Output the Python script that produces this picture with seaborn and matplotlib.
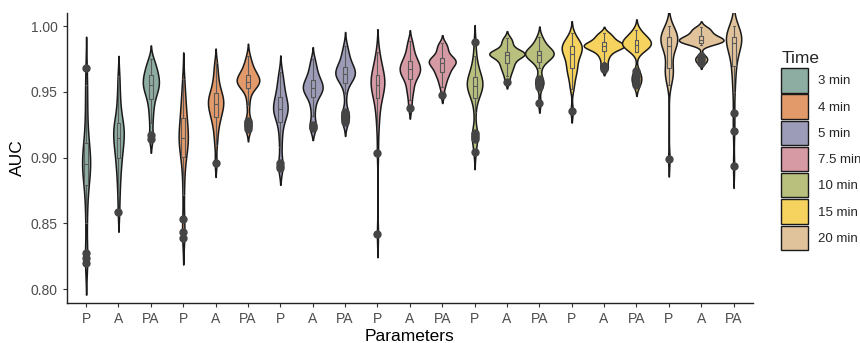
import matplotlib
matplotlib.use("Agg")
import matplotlib.pyplot as plt
from matplotlib.patches import Patch
import numpy as np
import pandas as pd
import seaborn as sns

# ---------------- data ----------------
times = ["3 min", "4 min", "5 min", "7.5 min", "10 min", "15 min", "20 min"]
params = ["P", "A", "PA"]
colors = ["#8DADA2", "#E29A6B", "#9C9CB8", "#D69AA5", "#B9BF7D", "#F6D35E", "#E0C29B"]

auc_3_P = [0.8198, 0.8236, 0.8274, 0.850, 0.862, 0.872, 0.879, 0.884, 0.887, 0.890, 0.892, 0.894, 0.895,
           0.897, 0.899, 0.902, 0.905, 0.908, 0.911, 0.917, 0.925, 0.935, 0.945, 0.955, 0.968]
auc_3_A = [0.859, 0.872, 0.880, 0.887, 0.892, 0.896, 0.900, 0.903, 0.906, 0.909, 0.911, 0.913, 0.915,
           0.917, 0.919, 0.921, 0.923, 0.925, 0.926, 0.929, 0.933, 0.938, 0.944, 0.952, 0.962]
auc_3_PA = [0.914, 0.9172, 0.926, 0.932, 0.937, 0.941, 0.9446, 0.947, 0.949, 0.951, 0.952, 0.954, 0.955,
            0.956, 0.957, 0.959, 0.960, 0.9615, 0.9628, 0.964, 0.966, 0.968, 0.970, 0.972, 0.975]
auc_4_P = [0.8388, 0.8438, 0.8532, 0.872, 0.885, 0.894, 0.9007, 0.904, 0.907, 0.910, 0.912, 0.9135, 0.9147,
           0.916, 0.918, 0.921, 0.924, 0.927, 0.9299, 0.933, 0.937, 0.941, 0.946, 0.952, 0.960]
auc_4_A = [0.8962, 0.910, 0.917, 0.922, 0.926, 0.929, 0.9311, 0.933, 0.935, 0.937, 0.938, 0.9395, 0.9408,
           0.942, 0.9435, 0.945, 0.946, 0.9475, 0.9489, 0.951, 0.954, 0.957, 0.961, 0.966, 0.972]
auc_4_PA = [0.922, 0.924, 0.926, 0.928, 0.940, 0.947, 0.9527, 0.954, 0.955, 0.956, 0.9565, 0.957, 0.9577,
            0.9585, 0.959, 0.960, 0.961, 0.962, 0.9628, 0.964, 0.966, 0.968, 0.970, 0.973, 0.977]
auc_5_P = [0.892, 0.8935, 0.8957, 0.908, 0.916, 0.922, 0.9273, 0.930, 0.932, 0.934, 0.935, 0.936, 0.9367,
           0.938, 0.939, 0.941, 0.943, 0.9445, 0.9458, 0.948, 0.951, 0.954, 0.957, 0.961, 0.965]
auc_5_A = [0.9223, 0.9235, 0.9248, 0.932, 0.938, 0.942, 0.9458, 0.947, 0.949, 0.950, 0.951, 0.952, 0.9527,
           0.9535, 0.9545, 0.956, 0.957, 0.958, 0.959, 0.961, 0.963, 0.965, 0.968, 0.971, 0.975]
auc_5_PA = [0.927, 0.929, 0.931, 0.933, 0.935, 0.948, 0.9565, 0.958, 0.9595, 0.961, 0.962, 0.963, 0.9635,
            0.964, 0.965, 0.966, 0.967, 0.968, 0.969, 0.971, 0.973, 0.975, 0.978, 0.981, 0.985]
auc_75_P = [0.842, 0.9038, 0.922, 0.930, 0.936, 0.941, 0.945, 0.948, 0.950, 0.952, 0.953, 0.954, 0.9552,
            0.9565, 0.958, 0.959, 0.960, 0.9615, 0.9628, 0.964, 0.966, 0.969, 0.972, 0.976, 0.980]
auc_75_A = [0.9375, 0.944, 0.949, 0.952, 0.955, 0.958, 0.960, 0.9615, 0.963, 0.964, 0.965, 0.966, 0.967,
            0.968, 0.969, 0.970, 0.971, 0.9725, 0.9737, 0.975, 0.977, 0.979, 0.982, 0.985, 0.989]
auc_75_PA = [0.9476, 0.954, 0.957, 0.960, 0.962, 0.9635, 0.965, 0.9665, 0.968, 0.969, 0.970, 0.971, 0.972,
             0.9725, 0.973, 0.9738, 0.9745, 0.9752, 0.976, 0.977, 0.979, 0.981, 0.983, 0.985, 0.987]
auc_10_P = [0.9045, 0.9145, 0.916, 0.9175, 0.919, 0.935, 0.945, 0.947, 0.949, 0.951, 0.9525, 0.9535, 0.9544,
            0.9555, 0.9565, 0.9575, 0.9585, 0.960, 0.9615, 0.963, 0.965, 0.968, 0.972, 0.977, 0.9875]
auc_10_A = [0.9577, 0.962, 0.965, 0.967, 0.969, 0.9705, 0.972, 0.9735, 0.975, 0.976, 0.9768, 0.9775, 0.978,
            0.9785, 0.979, 0.9795, 0.980, 0.9802, 0.9805, 0.9815, 0.983, 0.985, 0.987, 0.989, 0.991]
auc_10_PA = [0.9418, 0.954, 0.956, 0.958, 0.960, 0.968, 0.9729, 0.974, 0.975, 0.976, 0.9768, 0.9775, 0.978,
             0.9787, 0.9794, 0.980, 0.9805, 0.981, 0.9812, 0.982, 0.9835, 0.985, 0.987, 0.989, 0.992]
auc_15_P = [0.9354, 0.952, 0.957, 0.961, 0.964, 0.966, 0.968, 0.970, 0.972, 0.974, 0.976, 0.9775, 0.979,
            0.980, 0.981, 0.982, 0.983, 0.984, 0.985, 0.986, 0.987, 0.988, 0.989, 0.991, 0.995]
auc_15_A = [0.9670, 0.9696, 0.973, 0.976, 0.978, 0.9798, 0.9812, 0.982, 0.9828, 0.9835, 0.984, 0.9845, 0.9848,
            0.9852, 0.9856, 0.986, 0.9866, 0.9873, 0.988, 0.9888, 0.9898, 0.991, 0.9922, 0.9935, 0.995]
auc_15_PA = [0.955, 0.957, 0.959, 0.961, 0.963, 0.9655, 0.9805, 0.982, 0.983, 0.984, 0.9848, 0.9852, 0.9856,
             0.986, 0.9866, 0.9872, 0.988, 0.9887, 0.9894, 0.990, 0.991, 0.992, 0.993, 0.995, 0.997]
auc_20_P = [0.899, 0.955, 0.960, 0.9625, 0.9645, 0.966, 0.968, 0.971, 0.976, 0.981, 0.9835, 0.9845, 0.985,
            0.987, 0.988, 0.989, 0.990, 0.991, 0.9919, 0.993, 0.994, 0.995, 0.996, 0.998, 1.000]
auc_20_A = [0.972, 0.974, 0.9755, 0.977, 0.9858, 0.9866, 0.9872, 0.9876, 0.988, 0.9883, 0.9886, 0.9889, 0.9895,
            0.990, 0.9905, 0.991, 0.9915, 0.992, 0.9925, 0.9935, 0.995, 0.996, 0.997, 0.998, 0.999]
auc_20_PA = [0.8937, 0.9203, 0.9337, 0.950, 0.958, 0.965, 0.970, 0.974, 0.978, 0.981, 0.983, 0.985, 0.9868,
             0.988, 0.989, 0.990, 0.9905, 0.991, 0.9919, 0.993, 0.994, 0.995, 0.996, 0.998, 1.000]

series = [
    [auc_3_P, auc_3_A, auc_3_PA],
    [auc_4_P, auc_4_A, auc_4_PA],
    [auc_5_P, auc_5_A, auc_5_PA],
    [auc_75_P, auc_75_A, auc_75_PA],
    [auc_10_P, auc_10_A, auc_10_PA],
    [auc_15_P, auc_15_A, auc_15_PA],
    [auc_20_P, auc_20_A, auc_20_PA],
]
y_ticks = [0.80, 0.85, 0.90, 0.95, 1.00]

# ---------------- table ----------------
rows = []
order = []
tick_labels = []
for t, group in zip(times, series):
    for p, vals in zip(params, group):
        key = f"{t}|{p}"
        order.append(key)
        tick_labels.append(p)
        for v in vals:
            rows.append({"key": key, "Time": t, "Parameters": p, "AUC": v})
df = pd.DataFrame(rows)
palette = dict(zip(times, colors))

# ---------------- plot ----------------
sns.set_theme(style="ticks")
plt.rcParams["font.family"] = ["Liberation Sans", "DejaVu Sans"]

fig = plt.figure(figsize=(8.6, 3.43), dpi=100)
ax = fig.add_axes([66.7 / 860, 40 / 343, (753 - 66.7) / 860, 290 / 343])

sns.violinplot(data=df, x="key", y="AUC", hue="Time", order=order, hue_order=times,
               palette=palette, dodge=False, density_norm="area", common_norm=True,
               cut=2.0, bw_adjust=0.6, width=1.38, inner=None, linewidth=1.1,
               linecolor="#1a1a1a", saturation=1, legend=False, ax=ax)
sns.boxplot(data=df, x="key", y="AUC", order=order, width=0.12, fill=False,
            color="#5a5a5a", linewidth=0.8, fliersize=5,
            flierprops=dict(marker="o", markerfacecolor="#454545", markeredgecolor="#454545"),
            ax=ax)

ax.set_xlim(-0.6, 20.6)
ax.set_ylim(0.7896, 1.0099)
ax.set_xticks(range(len(order)))
ax.set_xticklabels(tick_labels)
ax.set_yticks(y_ticks)
ax.set_yticklabels([f"{v:.2f}" for v in y_ticks])
ax.tick_params(axis="both", labelsize=10, colors="#333333", labelcolor="#4d4d4d", length=3, width=0.8)
ax.set_xlabel("Parameters", fontsize=12.5, color="black", labelpad=2)
ax.set_ylabel("AUC", fontsize=12.5, color="black", labelpad=4)
for s in ["top", "right"]:
    ax.spines[s].set_visible(False)
for s in ["left", "bottom"]:
    ax.spines[s].set_color("#222222")
    ax.spines[s].set_linewidth(1.0)

handles = [Patch(facecolor=c, edgecolor="#1a1a1a", linewidth=1.0, label=t) for t, c in zip(times, colors)]
fig.legend(handles=handles, title="Time", loc="upper left", bbox_to_anchor=(776 / 860, 1 - 46 / 343),
           frameon=False, fontsize=9.5, title_fontsize=12.5, handlelength=2.05, handleheight=2.45,
           labelspacing=0.15, handletextpad=0.7, alignment="left", borderaxespad=0)

fig.savefig("out.png", dpi=100)
